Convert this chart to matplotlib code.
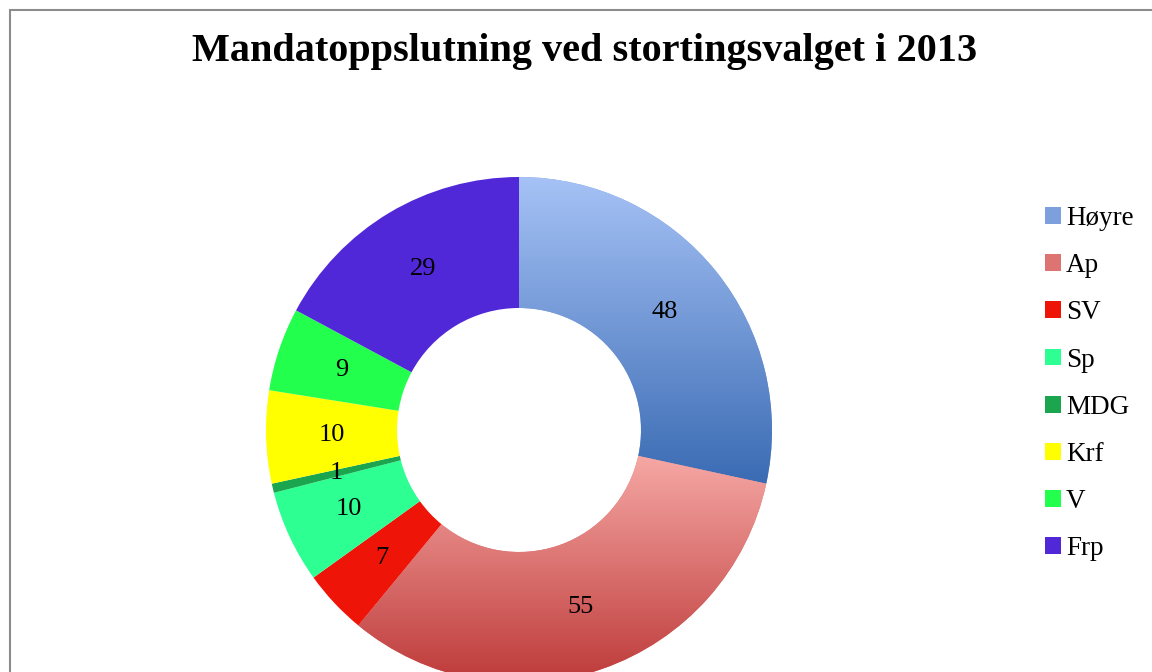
import matplotlib
matplotlib.use('Agg')
import matplotlib.pyplot as plt
import numpy as np
from matplotlib.colors import LinearSegmentedColormap
from matplotlib.patches import Rectangle

# data
parties = ['Høyre', 'Ap', 'SV', 'Sp', 'MDG', 'Krf', 'V', 'Frp']
seats = [48, 55, 7, 10, 1, 10, 9, 29]
colors = ['#7d9fdc', '#dd7472', '#ef1408', '#2eff93', '#1aa54e', '#ffff00', '#22ff4c', '#5128d8']
gradients = {'Høyre': ('#a6c2f6', '#3a6bb3'), 'Ap': ('#f6a8a5', '#bd3a39')}
title = 'Mandatoppslutning ved stortingsvalget i 2013'

plt.rcParams['font.family'] = ['Liberation Serif', 'DejaVu Serif']

W, H = 1152, 672
fig = plt.figure(figsize=(W / 100, H / 100), dpi=100)
ax = fig.add_axes([0, 0, 1, 1])
ax.set_xlim(0, W)
ax.set_ylim(0, H)
ax.set_aspect('equal')
ax.axis('off')

cx, cy, R, r_in = 519, H - 430, 253, 122
total = sum(seats)
wedges, texts, autotexts = ax.pie(
    seats, colors=colors, startangle=90, counterclock=False,
    center=(cx, cy), radius=R, frame=True,
    wedgeprops=dict(width=R - r_in, linewidth=0),
    autopct=lambda p: '%d' % round(p * total / 100),
    pctdistance=(R + r_in) / 2 / R,
    textprops=dict(fontsize=19, color='black'))
for t in autotexts:
    t.set_zorder(5)

# gradient fills
for w, name in zip(wedges, parties):
    if name in gradients:
        ext = w.get_path().get_extents()
        cmap = LinearSegmentedColormap.from_list(name, [gradients[name][1], gradients[name][0]])
        grad = np.linspace(0, 1, 256).reshape(-1, 1)
        im = ax.imshow(grad, extent=[ext.x0, ext.x1, ext.y0, ext.y1], origin='lower',
                       cmap=cmap, aspect='auto', zorder=2)
        im.set_clip_path(w)

ax.set_xlim(0, W)
ax.set_ylim(0, H)
ax.set_aspect('equal')

# frame of the chart area
ax.add_patch(Rectangle((10, -20), W + 20, H - 10 + 20, fill=False,
                       edgecolor='#8c8c8c', linewidth=1.5, clip_on=False, zorder=6))

fig.text(585 / W, 1 - 52 / H, title, ha='center', va='center',
         fontsize=29, fontweight='bold')

leg = ax.legend(wedges, parties, loc='upper left', bbox_to_anchor=(1045 / W, 1 - 206 / H),
                bbox_transform=fig.transFigure, frameon=False, fontsize=19.5,
                handlelength=0.58, handleheight=0.58, handletextpad=0.2, labelspacing=0.82,
                borderpad=0, borderaxespad=0)

fig.savefig('out.png', dpi=100)
